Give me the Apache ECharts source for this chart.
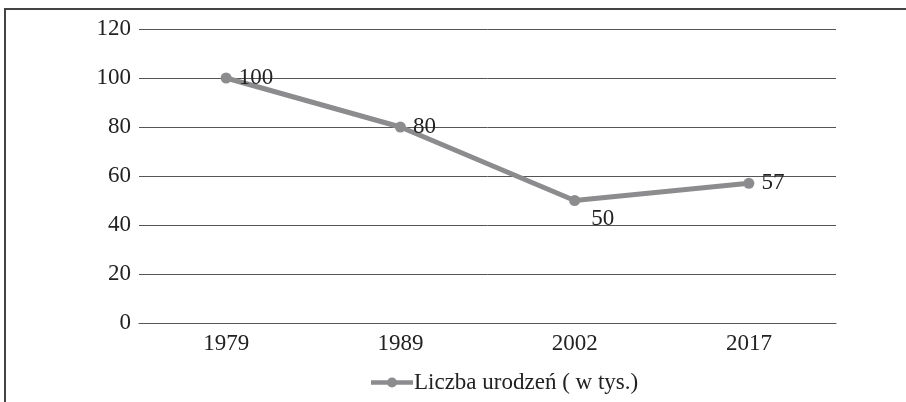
<!DOCTYPE html>
<html>
<head>
<meta charset="utf-8">
<script src="https://cdn.jsdelivr.net/npm/echarts@6/dist/echarts.min.js"></script>
<style>
  html, body { margin: 0; padding: 0; background: #fff; }
  #frame { position: absolute; left: 4px; top: 8px; width: 910px; height: 400px;
           border-top: 2px solid #444; border-left: 2px solid #444; }
  #chart { position: absolute; left: 0; top: 0; width: 906px; height: 402px; }
</style>
</head>
<body>
<div id="frame"></div>
<div id="chart"></div>
<script>
// dane
const years = ['1979', '1989', '2002', '2017'];
const births = [100, 80, 50, 57];
const seriesName = 'Liczba urodzeń ( w tys.)';

const font = '"Liberation Serif", "DejaVu Serif", serif';

const chart = echarts.init(document.getElementById('chart'));
chart.setOption({
  animation: false,
  textStyle: { fontFamily: font },
  grid: { left: 139, right: 70, top: 29, bottom: 79 },
  xAxis: {
    type: 'category',
    data: years,
    boundaryGap: true,
    axisLine: { show: true, lineStyle: { color: '#555', width: 1 } },
    axisTick: { show: false },
    axisLabel: { color: '#222', fontSize: 23, fontFamily: font, margin: 9 }
  },
  yAxis: {
    type: 'value',
    min: 0,
    max: 120,
    interval: 20,
    axisLine: { show: false },
    axisTick: { show: false },
    axisLabel: { color: '#222', fontSize: 23, fontFamily: font, margin: 8 },
    splitLine: { lineStyle: { color: '#555', width: 1 } }
  },
  legend: {
    bottom: 3,
    left: 366,
    itemWidth: 42,
    itemHeight: 12,
    itemGap: 4,
    textStyle: { color: '#222', fontSize: 23, fontFamily: font, padding: [0, 0, 0, -4] },
    data: [{ name: seriesName, icon: 'path://M0,4 L42,4 L42,8.5 L0,8.5 Z M21,1.2 a5,5 0 1,1 0,10 a5,5 0 1,1 0,-10 Z' }]
  },
  series: [{
    name: seriesName,
    type: 'line',
    data: births.map((v, i) => i === 2
      ? { value: v, label: { position: 'bottom', offset: [28, -6] } }
      : v),
    symbol: 'circle',
    symbolSize: 11,
    lineStyle: { color: '#8c8c8e', width: 5 },
    itemStyle: { color: '#8c8c8e' },
    label: {
      show: true,
      position: 'right',
      distance: 7,
      color: '#222',
      fontSize: 23,
      fontFamily: font
    }
  }]
});
</script>
</body>
</html>
